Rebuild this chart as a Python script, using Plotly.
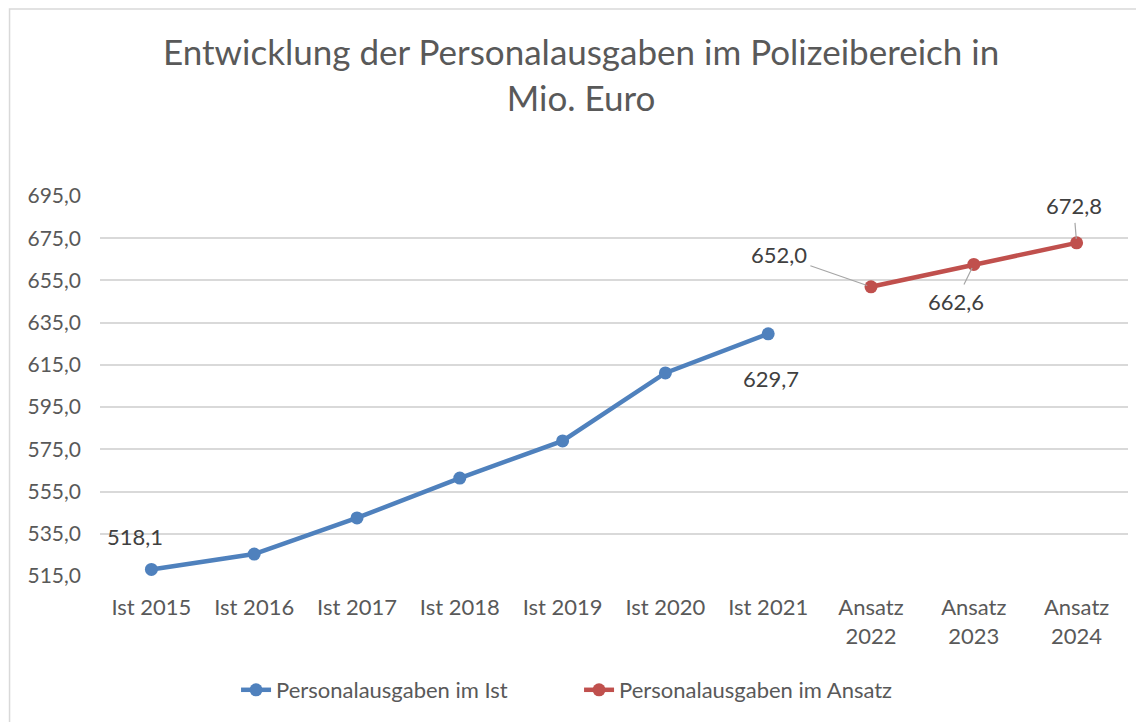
import plotly.graph_objects as go

categories = ["Ist 2015", "Ist 2016", "Ist 2017", "Ist 2018", "Ist 2019", "Ist 2020", "Ist 2021",
              "Ansatz<br>2022", "Ansatz<br>2023", "Ansatz<br>2024"]
ist_cats = categories[:7]
ist_vals = [518.1, 525.4, 542.5, 561.4, 579.0, 611.2, 629.7]
ans_cats = categories[7:]
ans_vals = [652.0, 662.6, 672.8]
y_ticks = [515, 535, 555, 575, 595, 615, 635, 655, 675, 695]

BLUE = "#4f81bd"
RED = "#c0504d"
FONT = "Lato, Open Sans, sans-serif"

def fmt(v):
    return f"{v:.1f}".replace(".", ",")

fig = go.Figure()
fig.add_trace(go.Scatter(x=ist_cats, y=ist_vals, mode="lines+markers",
                         name="Personalausgaben im Ist",
                         line=dict(color=BLUE, width=4.5),
                         marker=dict(color=BLUE, size=13)))
fig.add_trace(go.Scatter(x=ans_cats, y=ans_vals, mode="lines+markers",
                         name="Personalausgaben im Ansatz",
                         line=dict(color=RED, width=4.5),
                         marker=dict(color=RED, size=13)))

lab_font = dict(family=FONT, size=22, color="#404040")
annotations = []
# labels without leader lines
annotations.append(dict(x=ist_cats[0], y=ist_vals[0], text=fmt(ist_vals[0]), showarrow=False,
                        xshift=-16, yshift=33, font=lab_font))
annotations.append(dict(x=ist_cats[-1], y=ist_vals[-1], text=fmt(ist_vals[-1]), showarrow=False,
                        xshift=3, yshift=-45, font=lab_font))
# labels with leader lines
offsets = [(-92, -32), (-18, 37), (-3, -37)]
for c, v, (ax, ay) in zip(ans_cats, ans_vals, offsets):
    annotations.append(dict(x=c, y=v, text=fmt(v), showarrow=True, arrowhead=0,
                            arrowwidth=1.2, arrowcolor="#a6a6a6", ax=ax, ay=ay,
                            standoff=4, startstandoff=2, font=lab_font))

fig.update_layout(
    width=1144, height=722,
    margin=dict(l=92, r=24, t=188, b=154),
    paper_bgcolor="white", plot_bgcolor="white",
    separators=",.",
    title=dict(text="Entwicklung der Personalausgaben im Polizeibereich in<br>Mio. Euro",
               x=0.501, xanchor="center", y=0.921, yanchor="middle",
               font=dict(family=FONT, size=35, color="#595959")),
    showlegend=True,
    legend=dict(orientation="h", x=0.466, xanchor="center", y=-0.3, yanchor="middle",
                font=dict(family=FONT, size=22, color="#595959"), entrywidth=298),
    annotations=annotations,
    shapes=[dict(type="rect", xref="paper", yref="paper",
                 x0=-0.088, x1=1.2, y0=-0.5, y1=1.492,
                 line=dict(color="#d9d9d9", width=1.5), fillcolor="rgba(0,0,0,0)", layer="below")],
)
fig.update_xaxes(type="category", categoryorder="array", categoryarray=categories,
                 range=[-0.5, 9.5], showgrid=False, showline=False, ticks="",
                 ticklabelstandoff=16,
                 tickfont=dict(family=FONT, size=22, color="#595959"), tickangle=0)
fig.update_yaxes(range=[515, 695], tickvals=y_ticks, tickformat=".1f",
                 showgrid=True, gridcolor="#d9d9d9", gridwidth=1.5,
                 zeroline=False, showline=False, ticklabelstandoff=18,
                 tickfont=dict(family=FONT, size=21, color="#595959"))

fig.write_html("out.html")
